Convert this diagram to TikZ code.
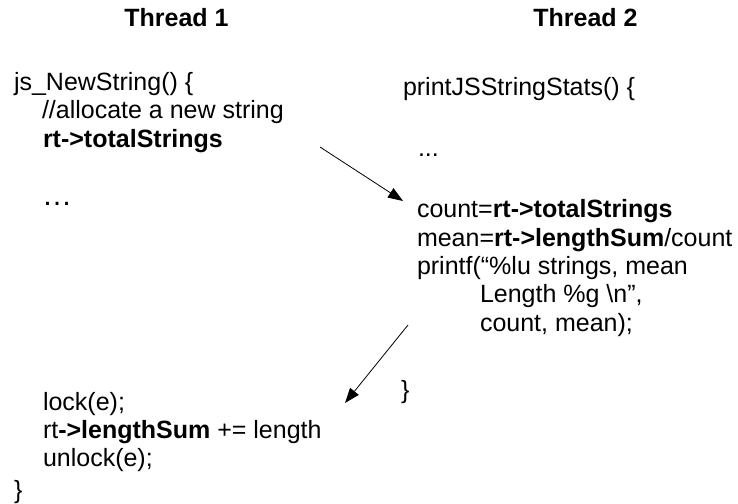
\documentclass[tikz,border=0pt]{standalone}
\usepackage{fontspec}
\setmainfont{Liberation Sans}
\usetikzlibrary{arrows.meta}
\begin{document}
\begin{tikzpicture}[x=1pt,y=-1pt,
  code/.style={inner sep=0pt, outer sep=0pt, anchor=base west, font=\fontsize{25}{28.5}\selectfont},
  head/.style={inner sep=0pt, outer sep=0pt, anchor=base, font=\fontsize{25}{28.5}\selectfont\bfseries},
  flow/.style={line width=0.8pt, -{Triangle[length=15pt,width=11pt]}}]
\useasboundingbox[fill=white] (0,0) rectangle (738,503);
% headings
\node[head] (h1) at (176.5,27) {Thread 1};
\node[head] (h2) at (585.5,27) {Thread 2};
% thread 1
\node[code] (a1) at (14,90) {js\_NewString() \{};
\node[code] (a2) at (42,118) {//allocate a new string};
\node[code] (a3) at (43,147) {\textbf{rt->totalStrings}};
\node[code, font=\fontsize{30}{30}\selectfont] (a4) at (42,205) {…};
\node[code] (a5) at (43,410) {lock(e);};
\node[code] (a6) at (43,438) {rt\textbf{->lengthSum} += length};
\node[code] (a7) at (43,466) {unlock(e);};
\node[code] (a8) at (14,498) {\}};
% thread 2
\node[code] (b1) at (403,95) {printJSStringStats() \{};
\node[code] (b2) at (418,156) {...};
\node[code] (b3) at (417,217) {count=\textbf{rt->totalStrings}};
\node[code] (b4) at (417,246) {mean=\textbf{rt->lengthSum}/count};
\node[code] (b5) at (417,274) {printf(“\%lu strings, mean};
\node[code] (b6) at (480,302) {Length \%g \textbackslash n”,};
\node[code] (b7) at (480,331) {count, mean);};
\node[code] (b8) at (401,398) {\}};
% connectors
\coordinate (s1) at (320,147);
\coordinate (t1) at (403,201);
\coordinate (s2) at (408,325);
\coordinate (t2) at (345,403);
\draw[flow] (s1) -- (t1);
\draw[flow] (s2) -- (t2);
\end{tikzpicture}
\end{document}
